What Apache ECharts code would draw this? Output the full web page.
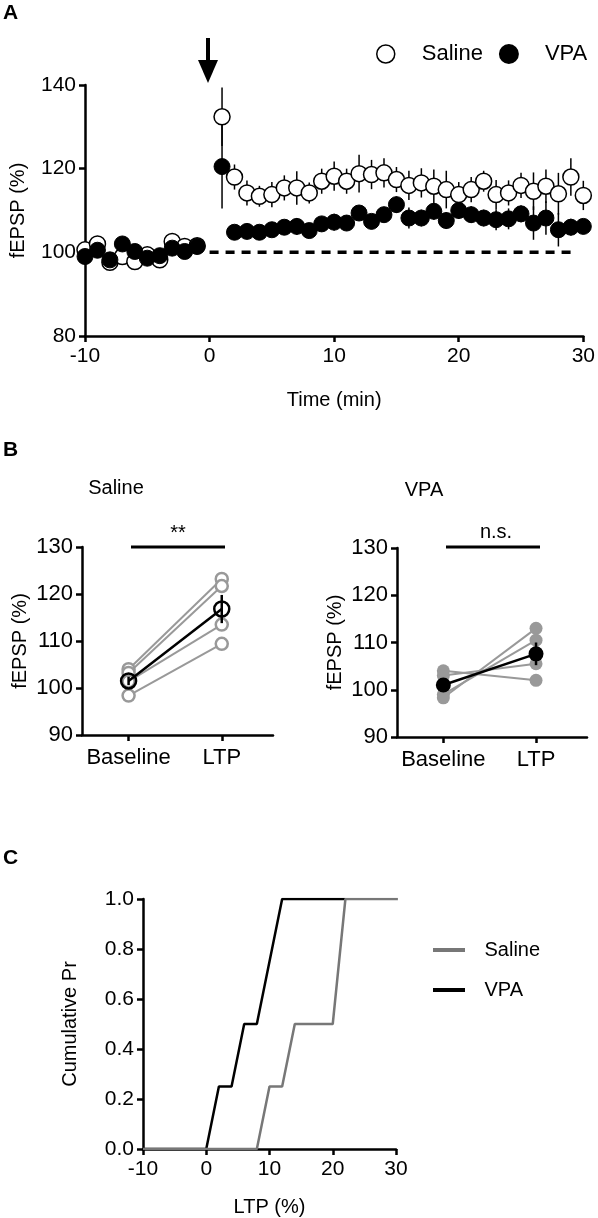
<!DOCTYPE html>
<html><head><meta charset="utf-8">
<script src="https://cdn.jsdelivr.net/npm/echarts@6/dist/echarts.min.js"></script>
<style>html,body{margin:0;padding:0;background:#fff}#c{width:598px;height:1218px}</style>
</head><body><div id="c"></div>
<script>
// Panel A
const timeBase = [-10,-9,-8,-7,-6,-5,-4,-3,-2,-1];
const timePost = [1,2,3,4,5,6,7,8,9,10,11,12,13,14,15,16,17,18,19,20,21,22,23,24,25,26,27,28,29,30];
const salineBase = [100.6,102,97.6,99,97.8,99.4,98.2,102.6,101.4,101.6];
const salinePost = [132.4,118,114.2,113.4,113.8,115.4,115.4,114.2,117,118.2,117,118.8,118.6,119,117.4,116,116.6,115.8,115,113.8,115,117,113.8,114.2,116,114.6,115.8,114,118,113.6];
const salineBaseErr = [1,1,1,1.2,1,1,1,1,1,1];
const salinePostErr = [7,3,3,2.5,3,3,4,2.5,3,3.5,3,4.5,3.5,3.5,3,3.5,3.5,4,4.5,3,3,2.5,3.5,3,3,4.5,4,5,4.5,3.5];
const vpaBase = [99,100.5,98.2,102,100.2,98.6,99.2,101,100.2,101.4];
const vpaPost = [120.5,104.8,105,104.8,105.4,106,106.2,105.2,106.8,107.2,107,109.4,107.4,109,111.4,108.2,108.2,109.8,107.6,110,109,108.2,107.8,108,109.2,107,108.2,105.4,106,106.2];
const vpaBaseErr = [1,1,1,1.5,1.5,1,1,1,1,1];
const vpaPostErr = [10,1.5,1.5,1.5,1.5,1.5,2,1.5,1.5,2,1.5,1.5,1.5,1.5,2,2.5,2,2,2,2,2,2,2.5,2.5,2,4,4,4,2,1.5];
const dashX = [0,29];
const dashY = [100,100];
// Panel B
const bCats = ['Baseline','LTP'];
const bPos = [1,3];
const salineInd = [[104,123.2],[103.2,121.7],[101.4,113.5],[98.4,109.4]];
const salineMean = [101.5,116.8];
const salineMeanErr = [0.9,3];
const vpaInd = [[104,102],[103,105.5],[99,110.5],[98.3,113]];
const vpaMean = [101,107.6];
const vpaMeanErr = [0.9,2.4];
// Panel C
const cSalineX = [-10,8,10,12,14,20,22,30.3];
const cSalineY = [0,0,0.25,0.25,0.5,0.5,1,1];
const cVpaX = [-10,0,2,4,6,8,12,22];
const cVpaY = [0,0,0.25,0.25,0.5,0.5,1,1];

const F = 'Liberation Sans, Arial, sans-serif';
const zip = (xs, ys) => xs.map((x,i)=>[x, ys[i]]);
const axisLine = {show:true, onZero:false, lineStyle:{color:'#000', width:2.5}};
const axisTick = {show:true, inside:false, length:6, lineStyle:{color:'#000', width:2.5}};
function lab(size){return {color:'#000', fontSize:size, fontFamily:F, margin:6};}
function errSeries(xi, yi, data, color, width, z){
  return {type:'custom', xAxisIndex:xi, yAxisIndex:yi, z:z, silent:true, data:data,
    renderItem:(p, api)=>{
      const a = api.coord([api.value(0), api.value(1)-api.value(2)]);
      const b = api.coord([api.value(0), api.value(1)+api.value(2)]);
      return {type:'line', shape:{x1:a[0],y1:a[1],x2:b[0],y2:b[1]}, style:{stroke:color, lineWidth:width}};
    }};
}
const salA = zip(timeBase.concat(timePost), salineBase.concat(salinePost));
const salAErr = timeBase.concat(timePost).map((t,i)=>[t, salineBase.concat(salinePost)[i], salineBaseErr.concat(salinePostErr)[i]]);
const vpaA = zip(timeBase.concat(timePost), vpaBase.concat(vpaPost));
const vpaAErr = timeBase.concat(timePost).map((t,i)=>[t, vpaBase.concat(vpaPost)[i], vpaBaseErr.concat(vpaPostErr)[i]]);

const series = [
  errSeries(0,0,salAErr,'#000',1.5,1),
  {name:'Saline', type:'scatter', xAxisIndex:0, yAxisIndex:0, symbol:'circle', symbolSize:16, z:2,
   itemStyle:{color:'#fff', borderColor:'#000', borderWidth:1.5, opacity:1}, data:salA},
  errSeries(0,0,vpaAErr,'#000',1.5,3),
  {name:'VPA', type:'scatter', xAxisIndex:0, yAxisIndex:0, symbol:'circle', symbolSize:16, z:4,
   itemStyle:{color:'#000', borderColor:'#000', borderWidth:1, opacity:1}, data:vpaA},
  {type:'line', xAxisIndex:0, yAxisIndex:0, data:zip(dashX,dashY), symbol:'none', z:1,
   lineStyle:{color:'#000', width:3.5, type:[9,7]}}
];
salineInd.forEach(v=>series.push({type:'line', xAxisIndex:1, yAxisIndex:1, data:zip(bPos,v), symbol:'circle', symbolSize:12,
  lineStyle:{color:'#999', width:2}, itemStyle:{color:'#fff', borderColor:'#999', borderWidth:2.5}, z:2}));
series.push(errSeries(1,1,bPos.map((x,i)=>[x,salineMean[i],salineMeanErr[i]]),'#000',2.5,4));
series.push({type:'line', xAxisIndex:1, yAxisIndex:1, data:zip(bPos,salineMean), symbol:'circle', symbolSize:15,
  lineStyle:{color:'#000', width:2.5}, itemStyle:{color:'rgba(255,255,255,0)', borderColor:'#000', borderWidth:2.5}, z:5});
vpaInd.forEach(v=>series.push({type:'line', xAxisIndex:2, yAxisIndex:2, data:zip(bPos,v), symbol:'circle', symbolSize:13,
  lineStyle:{color:'#999', width:2}, itemStyle:{color:'#999', borderColor:'#999', borderWidth:0}, z:2}));
series.push(errSeries(2,2,bPos.map((x,i)=>[x,vpaMean[i],vpaMeanErr[i]]),'#000',2.5,4));
series.push({type:'line', xAxisIndex:2, yAxisIndex:2, data:zip(bPos,vpaMean), symbol:'circle', symbolSize:15,
  lineStyle:{color:'#000', width:2.5}, itemStyle:{color:'#000'}, z:5});
series.push({name:'VPA', type:'line', xAxisIndex:3, yAxisIndex:3, data:zip(cVpaX,cVpaY), symbol:'none', lineStyle:{color:'#000', width:2.5}, itemStyle:{color:'#000'}, z:2});
series.push({name:'Saline', type:'line', xAxisIndex:3, yAxisIndex:3, data:zip(cSalineX,cSalineY), symbol:'none', lineStyle:{color:'#777', width:2.5}, itemStyle:{color:'#777'}, z:3});

function bX(gi){return {gridIndex:gi, type:'value', min:0, max:4.1, axisLine, splitLine:{show:false},
  axisTick:Object.assign({}, axisTick, {customValues:bPos}),
  axisLabel:Object.assign(lab(22), {customValues:bPos, formatter:v=>bCats[bPos.indexOf(v)], margin:12})};}
function bY(gi){return {gridIndex:gi, type:'value', min:90, max:130, interval:10, axisLine, axisTick, splitLine:{show:false},
  name:'fEPSP (%)', nameLocation:'middle', nameGap:52, nameTextStyle:{color:'#000', fontSize:20, fontFamily:F},
  axisLabel:Object.assign(lab(22),{margin:9})};}
const lineIcon = 'path://M0,0H40V5H0Z';

const chart = echarts.init(document.getElementById('c'), null, {renderer:'canvas'});
chart.setOption({
  backgroundColor:'#fff', animation:false,
  grid:[
    {left:82, top:85, width:504, height:251},
    {left:82, top:547, width:191, height:188},
    {left:397, top:548, width:190, height:189},
    {left:143, top:899, width:253, height:251}
  ],
  xAxis:[
    {gridIndex:0, type:'value', min:-10, max:30, interval:10, axisLine, axisTick, splitLine:{show:false}, axisLabel:Object.assign(lab(21),{margin:10}),
     name:'Time (min)', nameLocation:'middle', nameGap:54, nameTextStyle:{color:'#000', fontSize:20, fontFamily:F}},
    bX(1), bX(2),
    {gridIndex:3, type:'value', min:-10, max:30, interval:10, axisLine, axisTick, splitLine:{show:false}, axisLabel:Object.assign(lab(21),{margin:10}),
     name:'LTP (%)', nameLocation:'middle', nameGap:48, nameTextStyle:{color:'#000', fontSize:20, fontFamily:F}}
  ],
  yAxis:[
    {gridIndex:0, type:'value', min:80, max:140, interval:20, axisLine, axisTick, splitLine:{show:false}, axisLabel:Object.assign(lab(21),{margin:9}),
     name:'fEPSP (%)', nameLocation:'middle', nameGap:57, nameTextStyle:{color:'#000', fontSize:20, fontFamily:F}},
    bY(1), bY(2),
    {gridIndex:3, type:'value', min:0, max:1, interval:0.2, axisLine, axisTick, splitLine:{show:false},
     axisLabel:Object.assign(lab(21),{margin:9, formatter:v=>v.toFixed(1)}),
     name:'Cumulative Pr', nameLocation:'middle', nameGap:63, nameTextStyle:{color:'#000', fontSize:20, fontFamily:F}}
  ],
  legend:[
    {left:376, top:43, itemGap:16, itemWidth:18, itemHeight:18, padding:0, textStyle:{color:'#000', fontSize:22, fontFamily:F, padding:[0,0,0,22]},
     data:[{name:'Saline', icon:'circle', itemStyle:{color:'#fff', borderColor:'#000', borderWidth:1.5}},
           {name:'VPA', icon:'circle', itemStyle:{color:'#000'}}], selectedMode:false},
    {left:428, top:935, orient:'vertical', itemGap:20, itemWidth:33, itemHeight:4, textStyle:{color:'#000', fontSize:20, fontFamily:F, padding:[0,0,0,14]},
     data:[{name:'Saline', icon:lineIcon, itemStyle:{color:'#777', borderWidth:0}}, {name:'VPA', icon:lineIcon, itemStyle:{color:'#000', borderWidth:0}}], selectedMode:false}
  ],
  graphic:[
    {type:'text', left:3, top:3, style:{text:'A', font:'bold 21px '+F, fill:'#000'}},
    {type:'text', left:3, top:440, style:{text:'B', font:'bold 21px '+F, fill:'#000'}},
    {type:'text', left:3, top:848, style:{text:'C', font:'bold 21px '+F, fill:'#000'}},
    {type:'line', shape:{x1:208,y1:38,x2:208,y2:62}, style:{stroke:'#000', lineWidth:4}},
    {type:'polygon', shape:{points:[[198,60],[218,60],[208,83]]}, style:{fill:'#000'}},
    {type:'text', x:116, y:488, style:{text:'Saline', font:'20px '+F, fill:'#000', align:'center', verticalAlign:'middle'}},
    {type:'text', x:424, y:490, style:{text:'VPA', font:'20px '+F, fill:'#000', align:'center', verticalAlign:'middle'}},
    {type:'text', x:178, y:533, style:{text:'**', font:'20px '+F, fill:'#000', align:'center', verticalAlign:'middle'}},
    {type:'line', shape:{x1:131,y1:547,x2:225,y2:547}, style:{stroke:'#000', lineWidth:3}},
    {type:'text', x:496, y:532, style:{text:'n.s.', font:'20px '+F, fill:'#000', align:'center', verticalAlign:'middle'}},
    {type:'line', shape:{x1:446,y1:547,x2:540,y2:547}, style:{stroke:'#000', lineWidth:3}}
  ],
  series
});
</script></body></html>
